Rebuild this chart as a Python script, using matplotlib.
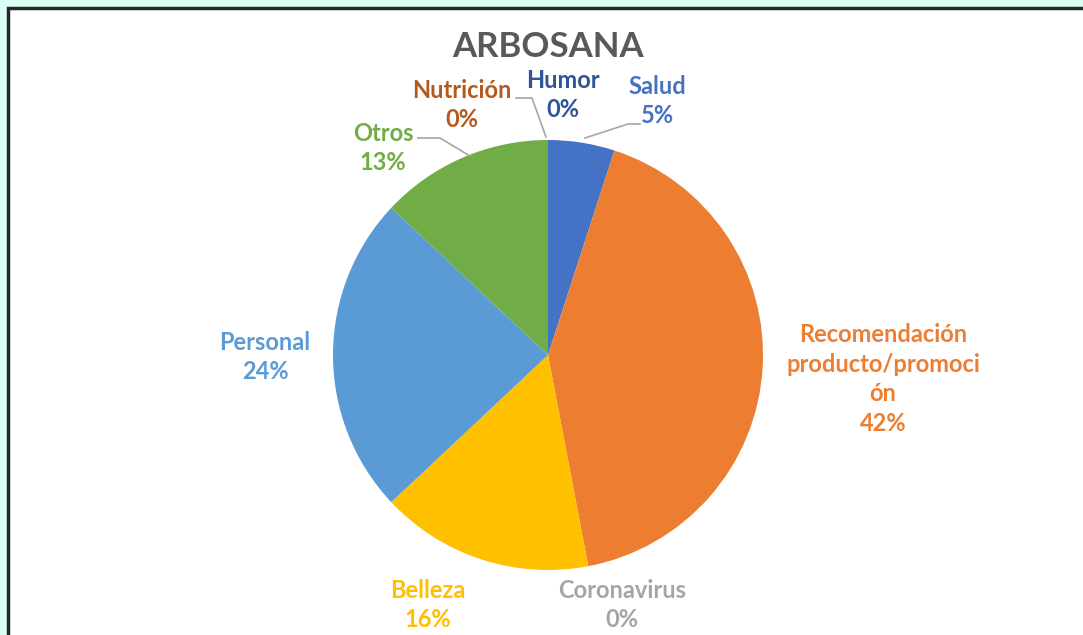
import matplotlib.pyplot as plt
from matplotlib.patches import Rectangle

# Datos
categorias = ["Salud", "Recomendación\nproducto/promoci\nón", "Coronavirus",
              "Belleza", "Personal", "Otros", "Nutrición", "Humor"]
valores = [5, 42, 0, 16, 24, 13, 0, 0]
etiquetas_pct = ["5%", "42%", "0%", "16%", "24%", "13%", "0%", "0%"]
colores = ["#4472C4", "#ED7D31", "#A5A5A5", "#FFC000",
           "#5B9BD5", "#70AD47", "#9E480E", "#264478"]
colores_txt = ["#4472C4", "#ED7D31", "#A5A5A5", "#FFC000",
               "#5B9BD5", "#70AD47", "#B55A1E", "#2F5597"]

# posiciones de las etiquetas en pixeles (x, y desde arriba)
pos_etq = [(657, 101), (883, 379), (622, 605), (428, 605),
           (265, 357), (383, 148), (462, 105), (563, 95)]

W, H = 1083, 635
fig = plt.figure(figsize=(W / 100, H / 100), dpi=100)
fig.patch.set_facecolor("#D9FFF6")

# marco blanco con borde oscuro
marco = Rectangle((8 / W, -0.1), 1.2, 1.1 - 8 / H,
                  transform=fig.transFigure, facecolor="white",
                  edgecolor="#262626", linewidth=2.5, zorder=-5)
fig.add_artist(marco)

ax = fig.add_axes([0, 0, 1, 1])
ax.set_facecolor("none")
ax.set_zorder(1)

cx, cy, r = 548, H - 355, 215
ax.pie(valores, colors=colores, startangle=90, counterclock=False,
       center=(cx, cy), radius=r, wedgeprops=dict(linewidth=0),
       frame=True)
ax.set_xlim(0, W)
ax.set_ylim(0, H)
ax.set_aspect("equal")
ax.axis("off")

ax.text(cx, H - 47, "ARBOSANA", ha="center", va="center", fontsize=25,
        fontweight="bold", color="#595959", family=["Lato", "DejaVu Sans"])

for cat, pct, col, (px, py) in zip(categorias, etiquetas_pct, colores_txt, pos_etq):
    ax.text(px, H - py, cat + "\n" + pct, ha="center", va="center",
            fontsize=17, fontweight="bold", color=col, linespacing=1.35,
            family=["Lato", "DejaVu Sans"])

# lineas guia
guias = [
    [(585, 138), (628, 124), (640, 124)],
    [(546, 137), (532, 98), (516, 98)],
    [(470, 156), (440, 138), (418, 138)],
]
for g in guias:
    xs = [p[0] for p in g]
    ys = [H - p[1] for p in g]
    ax.plot(xs, ys, color="#A6A6A6", linewidth=1.2, zorder=3)

fig.savefig("out.png", dpi=100, facecolor=fig.get_facecolor())
